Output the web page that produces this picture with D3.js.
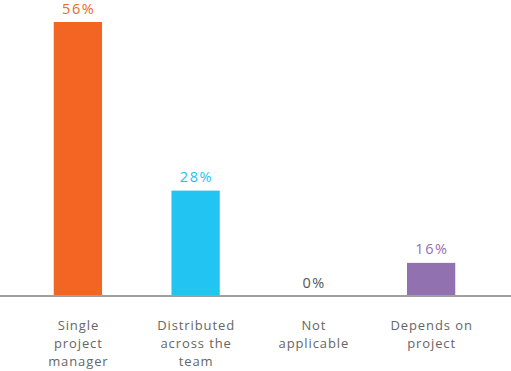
<!DOCTYPE html>
<html>
<head>
<meta charset="utf-8">
<script src="https://cdn.jsdelivr.net/npm/d3@7"></script>
<style>
  html, body { margin: 0; padding: 0; background: #fff; }
  svg { display: block; font-family: "Open Sans", "Noto Sans", sans-serif; }
</style>
</head>
<body>
<svg width="511" height="371"></svg>
<script>
// chart data
const categories = ["Single project manager", "Distributed across the team", "Not applicable", "Depends on project"];
const categoryLines = [["Single", "project", "manager"], ["Distributed", "across the", "team"], ["Not", "applicable"], ["Depends on", "project"]];
const values = [56, 28, 0, 16];
const barColors = ["#f26522", "#22c4f2", "#555555", "#9271b1"];

var svg = d3.select("svg"),
    width = +svg.attr("width"),
    height = +svg.attr("height"),
    baseline = 296;

var x = d3.scaleBand()
    .domain(categories)
    .range([19, 490])
    .paddingInner(0.59)
    .paddingOuter(0.295);

// the picture's bars do not start from zero
var y = d3.scaleLinear()
    .domain([10.5, 56])
    .range([baseline, 22])
    .clamp(true);

var data = categories.map((c, i) => ({cat: c, lines: categoryLines[i], value: values[i], color: barColors[i]}));

// bars
svg.append("g")
    .selectAll("rect")
    .data(data)
    .enter().append("rect")
    .attr("x", d => x(d.cat))
    .attr("width", x.bandwidth())
    .attr("y", d => y(d.value))
    .attr("height", d => baseline - y(d.value))
    .attr("fill", d => d.color);

// axis line
svg.append("line")
    .attr("x1", 0)
    .attr("x2", width)
    .attr("y1", baseline)
    .attr("y2", baseline)
    .attr("stroke", "#a0a0a0")
    .attr("stroke-width", 2);

// value labels (dx offsets the trailing letter-spacing)
svg.append("g")
    .selectAll("text")
    .data(data)
    .enter().append("text")
    .attr("x", d => x(d.cat) + x.bandwidth() / 2)
    .attr("dx", 0.8)
    .attr("y", d => y(d.value) - 8.5)
    .attr("text-anchor", "middle")
    .attr("font-size", 14.5)
    .attr("letter-spacing", 1.6)
    .attr("fill", d => d.color)
    .text(d => d.value + "%");

// category labels
var labels = svg.append("g")
    .selectAll("text")
    .data(data)
    .enter().append("text")
    .attr("x", d => x(d.cat) + x.bandwidth() / 2 + 0.5)
    .attr("y", 330)
    .attr("text-anchor", "middle")
    .attr("font-size", 13)
    .attr("letter-spacing", 0.9)
    .attr("fill", "#666666");

labels.selectAll("tspan")
    .data(d => d.lines)
    .enter().append("tspan")
    .attr("x", function() { return d3.select(this.parentNode).attr("x"); })
    .attr("dy", (d, i) => i === 0 ? 0 : 18)
    .text(d => d);
</script>
</body>
</html>
